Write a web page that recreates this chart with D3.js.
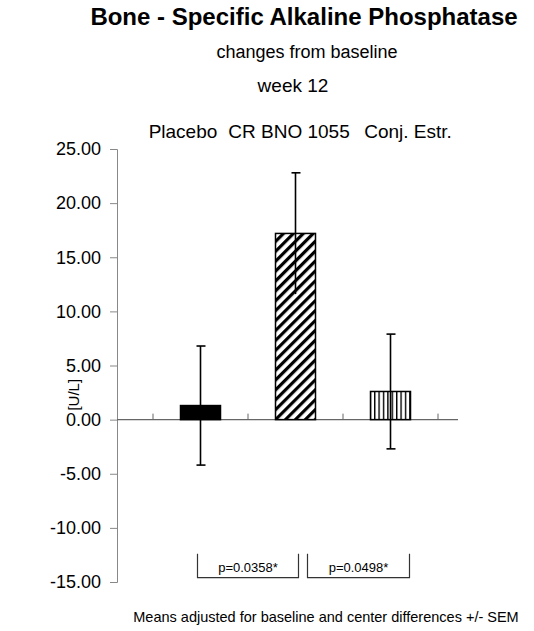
<!DOCTYPE html>
<html>
<head>
<meta charset="utf-8">
<script src="https://cdn.jsdelivr.net/npm/d3@7"></script>
<style>
  body { margin: 0; background: #fff; }
  svg text { font-family: "Liberation Sans", Arial, sans-serif; fill: #000; }
</style>
</head>
<body>
<svg id="chart" width="534" height="631"></svg>
<script>
const groups = ['Placebo', 'CR BNO 1055', 'Conj. Estr.'];
const means = [1.3, 17.2, 2.6];
const sems = [5.5, 5.6, 5.3];
const yTicks = [25, 20, 15, 10, 5, 0, -5, -10, -15];
const pValues = ['p=0.0358*', 'p=0.0498*'];

const svg = d3.select('#chart');

const y = d3.scaleLinear().domain([-15, 25]).range([582, 149]);
const x = d3.scaleBand().domain(groups).range([153, 438]);
const barW = 40;
const cx = g => x(g) + x.bandwidth() / 2;

// patterns
const defs = svg.append('defs');
defs.append('pattern')
    .attr('id', 'diag')
    .attr('patternUnits', 'userSpaceOnUse')
    .attr('width', 7).attr('height', 7)
    .attr('patternTransform', 'rotate(45)')
    .append('rect')
    .attr('x', 0).attr('y', 0).attr('width', 3.2).attr('height', 7)
    .attr('fill', '#000');
defs.append('pattern')
    .attr('id', 'vert')
    .attr('patternUnits', 'userSpaceOnUse')
    .attr('width', 4.4).attr('height', 10)
    .append('rect')
    .attr('x', 0).attr('y', 0).attr('width', 1.4).attr('height', 10)
    .attr('fill', '#000');
const fills = ['#000', 'url(#diag)', 'url(#vert)'];

// titles
svg.append('text').attr('x', 304).attr('y', 25)
    .attr('text-anchor', 'middle').attr('font-size', 24).attr('font-weight', 'bold')
    .text('Bone - Specific Alkaline Phosphatase');
svg.append('text').attr('x', 307).attr('y', 58)
    .attr('text-anchor', 'middle').attr('font-size', 18)
    .text('changes from baseline');
svg.append('text').attr('x', 293).attr('y', 92)
    .attr('text-anchor', 'middle').attr('font-size', 19)
    .text('week 12');

// group labels on top
const labelX = [183, 289, 408];
svg.selectAll('.grp').data(groups).enter().append('text')
    .attr('class', 'grp')
    .attr('x', (d, i) => labelX[i])
    .attr('y', 138)
    .attr('text-anchor', 'middle').attr('font-size', 19)
    .text(d => d);

// y axis
const yAxis = svg.append('g')
    .attr('transform', 'translate(117,0)')
    .call(d3.axisLeft(y).tickValues(yTicks).tickSize(7).tickPadding(9)
        .tickFormat(d => d3.format('.2f')(d).replace('\u2212', '-')));
yAxis.select('.domain').attr('stroke', '#888');
yAxis.selectAll('.tick line').attr('stroke', '#888');
yAxis.selectAll('text').attr('font-size', 18)
    .attr('font-family', '"Liberation Sans", Arial, sans-serif');

// x axis at zero
svg.append('line')
    .attr('x1', 117).attr('x2', 458)
    .attr('y1', y(0)).attr('y2', y(0))
    .attr('stroke', '#666').attr('stroke-width', 1.2);
const bounds = groups.map(g => x(g)).concat([x.range()[1]]);
svg.selectAll('.xtick').data(bounds).enter().append('line')
    .attr('x1', d => d).attr('x2', d => d)
    .attr('y1', y(0)).attr('y2', y(0) - 6)
    .attr('stroke', '#666');

// bars
svg.selectAll('.bar').data(means).enter().append('rect')
    .attr('x', (d, i) => x(groups[i]) + (x.bandwidth() - barW) / 2)
    .attr('y', d => y(d))
    .attr('width', barW)
    .attr('height', d => y(0) - y(d))
    .attr('fill', (d, i) => fills[i])
    .attr('stroke', '#000').attr('stroke-width', 1.5);

// error bars
const errData = groups.map((g, i) => ({ g, hi: means[i] + sems[i], lo: means[i] - sems[i] }));
const eb = svg.selectAll('.err').data(errData).enter().append('g');
eb.append('line')
    .attr('x1', d => cx(d.g)).attr('x2', d => cx(d.g))
    .attr('y1', d => y(d.hi)).attr('y2', d => y(d.lo))
    .attr('stroke', '#000').attr('stroke-width', 1.6);
eb.append('line')
    .attr('x1', d => cx(d.g) - 4).attr('x2', d => cx(d.g) + 5)
    .attr('y1', d => y(d.hi)).attr('y2', d => y(d.hi))
    .attr('stroke', '#000').attr('stroke-width', 1.6);
eb.filter(d => d.lo < 0).append('line')
    .attr('x1', d => cx(d.g) - 4).attr('x2', d => cx(d.g) + 5)
    .attr('y1', d => y(d.lo)).attr('y2', d => y(d.lo))
    .attr('stroke', '#000').attr('stroke-width', 1.6);

// y label
svg.append('text')
    .attr('transform', `translate(79,${y(2.3)}) rotate(-90)`)
    .attr('text-anchor', 'middle').attr('font-size', 15)
    .text('[U/L]');

// p-value brackets
const pairs = [[0, 1], [1, 2]];
const offs = [[-3, 3], [12, 19]];
const br = svg.selectAll('.br').data(pValues).enter().append('g');
br.append('path')
    .attr('d', (d, i) => {
        const a = cx(groups[pairs[i][0]]) + offs[i][0];
        const b = cx(groups[pairs[i][1]]) + offs[i][1];
        return `M${a},${y(-12.4)}V${y(-14.6)}H${b}V${y(-12.4)}`;
    })
    .attr('fill', 'none').attr('stroke', '#333').attr('stroke-width', 1.2);
br.append('text')
    .attr('x', (d, i) => (cx(groups[pairs[i][0]]) + cx(groups[pairs[i][1]]) + offs[i][0] + offs[i][1]) / 2)
    .attr('y', y(-13.6) + 5)
    .attr('text-anchor', 'middle').attr('font-size', 13)
    .text(d => d);

// footnote
svg.append('text').attr('x', 326).attr('y', 622)
    .attr('text-anchor', 'middle').attr('font-size', 14.5)
    .text('Means adjusted for baseline and center differences +/- SEM');
</script>
</body>
</html>
